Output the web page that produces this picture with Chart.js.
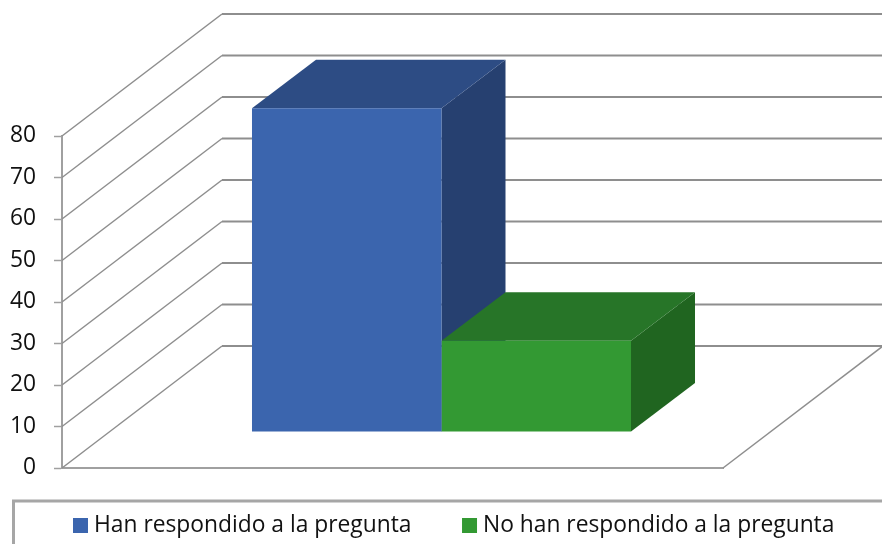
<!DOCTYPE html>
<html>
<head>
<meta charset="utf-8">
<style>
    html, body { margin: 0; padding: 0; background: #fff; overflow: hidden; }
    canvas { display: block; }
</style>
<script src="https://cdn.jsdelivr.net/npm/chart.js@4/dist/chart.umd.js"></script>
</head>
<body>
<canvas id="chart" width="882" height="544"></canvas>
<script>
// Chart values
const categories = [''];
const seriesNames = ['Han respondido a la pregunta', 'No han respondido a la pregunta'];
const answered = [78];
const notAnswered = [22];

// Face colours of each 3D bar
const frontColors = ['#3b65ae', '#339933'];
const topColors = ['#2d4c84', '#277528'];
const sideColors = ['#264070', '#206520'];

// 3D projection
const wallDepth = { x: 160, y: -122 };
const barDepth = { x: 64, y: -48.5 };
const barShift = { x: 49, y: -36 };

const gridColor = '#8e8e8e';
const axisColor = '#a0a0a0';
const textColor = '#111';
const fontFamily = 'Open Sans';
const fontSize = 22.8;

function polygon(ctx, points, color) {
    ctx.fillStyle = color;
    ctx.beginPath();
    points.forEach((p, i) => i ? ctx.lineTo(p[0], p[1]) : ctx.moveTo(p[0], p[1]));
    ctx.closePath();
    ctx.fill();
}

function line(ctx, x1, y1, x2, y2, width) {
    ctx.strokeStyle = gridColor;
    ctx.lineWidth = width;
    ctx.beginPath();
    ctx.moveTo(x1, y1);
    ctx.lineTo(x2, y2);
    ctx.stroke();
}

// Walls, floor and the top and side faces of the bars
const box3d = {
    id: 'box3d',
    afterLayout(chart) {
        // Place the legend inside its frame
        const legend = chart.legend;
        const pad = legend.options.labels.padding;
        legend.left = 78.4 - pad;
        legend.right = 2000;
        legend.top = 514 - pad;
        legend.bottom = 600;
    },
    beforeDraw(chart) {
        const ctx = chart.ctx;
        ctx.save();
        ctx.strokeStyle = '#a6a6a6';
        ctx.lineWidth = 3;
        ctx.strokeRect(13.5, 501, 1000, 200);
        ctx.restore();
    },
    beforeDatasetsDraw(chart) {
        const ctx = chart.ctx;
        const yScale = chart.scales.y;
        const { left, right, bottom } = chart.chartArea;

        ctx.save();
        yScale.ticks.forEach(tick => {
            const y = yScale.getPixelForValue(tick.value);
            line(ctx, left, y, left + wallDepth.x, y + wallDepth.y, 1.5);
            line(ctx, left + wallDepth.x, y + wallDepth.y, right + wallDepth.x, y + wallDepth.y, 2);
        });
        line(ctx, right, bottom, right + wallDepth.x, bottom + wallDepth.y, 1.5);

        chart.data.datasets.forEach((ds, i) => {
            const bar = chart.getDatasetMeta(i).data[0];
            const x1 = bar.x - bar.width / 2 + barShift.x;
            const x2 = bar.x + bar.width / 2 + barShift.x;
            const top = bar.y + barShift.y;
            const base = bar.base + barShift.y;
            polygon(ctx, [[x2, top], [x2 + barDepth.x, top + barDepth.y],
                [x2 + barDepth.x, base + barDepth.y], [x2, base]], sideColors[i]);
            polygon(ctx, [[x1, top], [x1 + barDepth.x, top + barDepth.y],
                [x2 + barDepth.x, top + barDepth.y], [x2, top]], topColors[i]);
        });
        ctx.restore();

        // Front faces sit forward of the back wall
        ctx.save();
        ctx.translate(barShift.x, barShift.y);
    },
    afterDatasetsDraw(chart) {
        chart.ctx.restore();
    }
};

new Chart(document.getElementById('chart'), {
    type: 'bar',
    data: {
        labels: categories,
        datasets: [
            { label: seriesNames[0], data: answered, backgroundColor: frontColors[0] },
            { label: seriesNames[1], data: notAnswered, backgroundColor: frontColors[1] }
        ]
    },
    options: {
        responsive: false,
        animation: false,
        events: [],
        layout: { padding: { top: 136, right: 159, left: 0, bottom: 28 } },
        datasets: { bar: { categoryPercentage: 0.5734, barPercentage: 1, clip: false } },
        scales: {
            x: {
                grid: { display: false },
                border: { color: axisColor, width: 2 },
                ticks: { display: false }
            },
            y: {
                min: 0,
                max: 80,
                afterFit(scale) { scale.width = 62; },
                grid: { drawOnChartArea: false, tickLength: 8, tickColor: axisColor, tickWidth: 1.5 },
                border: { color: axisColor, width: 2 },
                ticks: {
                    stepSize: 10,
                    padding: 18,
                    color: textColor,
                    font: { family: fontFamily, size: fontSize }
                }
            }
        },
        plugins: {
            tooltip: { enabled: false },
            legend: {
                position: 'bottom',
                align: 'start',
                maxHeight: 40,
                labels: {
                    color: textColor,
                    font: { family: fontFamily, size: fontSize },
                    padding: 56,
                    boxWidth: 4.2,
                    boxHeight: 4.2,
                    generateLabels(chart) {
                        return chart.data.datasets.map((ds, i) => ({
                            text: ds.label,
                            fillStyle: frontColors[i],
                            strokeStyle: frontColors[i],
                            fontColor: textColor,
                            lineWidth: 10.8,
                            datasetIndex: i
                        }));
                    }
                }
            }
        }
    },
    plugins: [box3d]
});
</script>
</body>
</html>
